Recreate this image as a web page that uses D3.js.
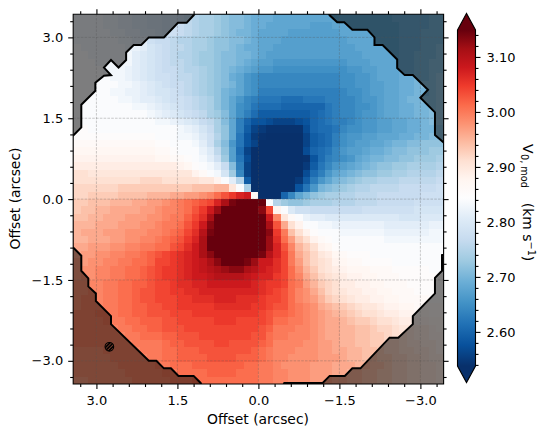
<!DOCTYPE html>
<html>
<head>
<meta charset="utf-8">
<style>
  html, body { margin: 0; padding: 0; background: #fff; }
  svg { display: block; }
  text { font-family: "DejaVu Sans", sans-serif; fill: #000; }
</style>
<script src="https://cdn.jsdelivr.net/npm/d3@7"></script>
</head>
<body>
<svg id="chart" width="547" height="437"></svg>
<script>
// Line-of-sight velocity model, in units of 0.01 km/s above 2.50 km/s, listed
// from the top row down and from the left column across.
const velocityRows = [
[33,33,33,33,32,32,31,31,30,30,29,29,28,28,27,26,25,24,24,23,22,21,21,20,19,19,19,18,18,18,18,18,18,18,18,18,18,18,18,18,18,18,18,19,19,19,19,19,20,20],
[33,33,33,33,32,32,31,31,30,30,29,29,28,28,27,26,25,24,24,23,22,21,21,20,19,19,18,18,18,18,18,18,17,17,17,18,18,18,18,18,18,18,18,18,19,19,19,19,20,20],
[33,33,33,33,33,32,32,31,31,30,30,29,28,28,27,26,25,24,24,23,22,21,20,20,19,18,18,18,18,17,17,17,17,17,17,17,18,18,18,18,18,18,18,18,19,19,19,20,20,20],
[33,33,33,33,33,33,32,32,31,31,28,27,27,26,25,25,24,24,23,22,22,21,21,20,19,18,18,18,17,17,17,17,17,17,17,17,17,18,18,18,18,18,18,18,19,19,19,20,20,20],
[34,33,33,33,33,33,33,32,32,31,29,28,27,26,26,25,24,24,23,22,22,21,20,19,19,18,18,17,17,17,17,17,17,17,17,17,17,17,18,18,18,18,18,18,19,19,19,20,20,21],
[34,34,33,33,33,33,33,33,31,30,29,28,27,26,25,25,24,23,23,22,21,21,20,20,19,18,17,17,17,17,17,17,17,17,17,17,17,17,17,18,18,18,18,18,19,19,20,20,20,21],
[34,34,34,33,33,33,33,33,31,30,29,28,27,26,26,25,24,23,23,22,21,21,20,19,18,17,17,16,16,16,16,16,16,16,16,16,16,17,17,17,18,18,18,18,19,19,20,20,21,21],
[34,34,34,34,33,33,33,32,31,30,29,28,27,27,26,25,25,24,23,22,21,20,19,18,17,16,16,15,15,15,15,15,15,15,15,15,15,16,16,17,17,18,18,18,19,19,20,20,21,21],
[34,34,34,34,34,33,33,32,31,30,29,28,28,27,26,26,25,24,23,22,21,19,18,16,15,14,14,14,14,14,14,14,14,14,14,14,15,15,16,16,17,18,18,18,19,19,20,20,21,22],
[34,34,34,34,34,34,33,33,32,31,30,29,28,27,27,26,25,24,23,22,21,20,18,16,15,14,14,14,14,14,14,14,14,14,14,14,15,15,16,16,17,17,18,18,19,19,20,21,21,22],
[34,34,34,34,34,33,33,32,32,31,30,29,29,28,27,26,25,24,23,22,20,19,18,16,15,13,13,13,13,13,13,13,13,13,13,13,14,15,15,16,17,17,18,18,19,19,20,20,21,22],
[34,34,34,34,34,34,33,33,32,31,31,30,29,28,28,27,26,25,24,22,20,18,16,14,13,12,12,12,11,11,11,12,12,12,13,13,14,14,15,16,16,17,18,18,19,20,20,21,21,22],
[34,34,34,34,34,34,34,34,33,33,32,31,30,29,28,27,26,25,24,22,20,18,15,14,12,11,11,11,10,10,10,10,10,10,12,13,14,14,15,15,16,17,18,18,19,19,20,20,21,22],
[34,34,34,34,34,34,34,34,34,34,33,32,31,30,29,28,27,26,24,23,21,18,15,13,11,9,9,9,9,9,9,9,10,11,12,13,14,14,15,16,16,17,18,18,19,19,20,20,21,22],
[34,34,34,34,34,34,34,34,34,34,34,33,33,32,31,30,29,27,26,24,21,18,13,10,8,8,7,6,6,6,7,8,10,11,12,13,13,14,15,16,16,17,17,18,18,19,19,20,21,22],
[35,35,34,34,34,34,34,34,34,34,34,34,34,34,33,32,31,29,27,24,22,18,13,9,6,5,4,4,4,4,4,7,10,11,11,12,14,15,15,16,16,17,17,18,18,19,19,20,20,21],
[35,35,35,35,35,35,35,35,35,35,35,34,34,34,33,33,32,30,28,25,22,18,12,8,5,4,3,3,3,3,3,6,9,10,11,13,15,16,16,17,17,18,18,18,19,19,20,20,21,21],
[36,36,36,36,36,36,36,36,36,36,36,35,35,34,34,34,33,31,28,24,21,16,12,8,6,3,3,3,3,3,3,6,9,10,11,13,15,16,17,17,18,18,19,20,20,21,21,22,22,22],
[37,37,37,37,37,37,37,37,37,37,37,36,36,35,34,34,34,32,30,26,22,17,11,6,3,3,3,3,3,3,3,7,10,11,12,14,16,17,17,18,19,19,20,21,21,22,22,22,23,23],
[38,38,38,38,38,38,38,38,38,38,38,37,37,36,36,35,34,33,31,28,23,17,12,7,3,3,3,3,3,3,3,4,8,11,13,14,15,16,18,19,20,20,21,21,22,22,23,23,23,24],
[39,39,39,39,39,39,39,39,39,39,39,39,39,39,38,37,35,34,33,31,27,21,13,6,3,3,3,3,3,3,3,5,9,12,14,16,17,18,19,20,21,22,22,23,23,24,24,24,24,25],
[41,41,40,40,40,40,40,40,40,40,40,40,40,40,40,40,38,36,34,33,29,23,14,6,3,3,3,3,3,3,3,7,11,13,16,18,19,20,21,22,22,23,23,24,24,25,25,25,25,26],
[41,41,41,41,41,41,41,41,41,42,42,42,41,41,41,41,41,40,40,38,34,31,25,9,3,3,3,3,3,3,5,9,13,16,18,20,21,22,23,24,24,25,25,25,26,26,26,26,26,27],
[42,42,42,42,42,42,43,43,43,43,43,43,43,43,43,43,44,44,44,45,45,40,34,24,3,3,3,3,3,3,8,12,16,20,21,22,23,24,25,25,26,26,26,26,27,27,27,27,27,28],
[42,42,43,43,43,43,44,44,44,44,45,45,45,46,46,47,47,48,49,51,53,55,57,58,36,3,3,3,10,14,18,20,22,23,24,24,25,25,26,26,26,27,27,27,27,27,27,28,28,28],
[43,43,44,44,44,45,45,45,46,46,47,47,48,49,50,51,52,53,54,57,61,64,65,65,65,65,34,25,23,22,22,23,24,24,24,25,25,25,26,26,26,27,27,27,27,27,28,28,28,28],
[43,44,44,45,45,46,46,46,46,47,47,48,49,49,50,51,53,55,58,62,65,65,65,65,65,63,54,38,34,30,28,28,27,27,27,27,27,27,27,28,28,28,28,28,28,28,29,29,29,29],
[44,44,45,45,46,46,46,47,47,47,48,48,49,50,50,52,54,56,61,65,65,65,65,65,65,65,58,49,40,36,34,32,31,31,30,30,30,30,30,30,30,30,30,30,29,29,29,30,30,30],
[45,45,45,46,46,46,47,47,47,48,48,49,50,50,51,53,55,58,63,65,65,65,65,65,65,65,61,53,46,41,38,34,34,33,33,32,32,32,32,32,32,32,31,31,31,31,31,31,32,32],
[45,46,46,46,47,47,47,48,48,48,49,49,50,51,52,54,56,60,64,65,65,65,65,65,65,65,63,55,50,44,41,38,35,34,34,34,33,33,33,33,33,33,32,32,32,32,32,32,33,33],
[45,45,46,46,46,47,47,48,48,49,49,50,51,52,53,55,57,61,65,65,65,65,65,65,65,65,62,56,51,47,43,41,38,36,35,34,34,34,34,34,34,34,33,33,33,33,33,33,33,33],
[46,46,47,47,47,48,48,49,49,50,50,51,51,53,54,56,58,61,65,65,65,65,65,65,65,65,62,57,53,49,45,43,41,38,37,35,34,34,34,34,34,34,34,34,34,34,34,34,34,34],
[46,47,47,48,48,49,49,50,50,51,52,53,54,55,56,57,58,61,63,65,65,65,65,65,65,64,60,57,54,50,46,44,42,40,39,37,36,35,35,35,34,34,34,34,34,34,34,34,34,34],
[47,47,48,48,49,49,50,50,51,51,52,54,54,55,56,57,58,59,61,63,65,65,65,64,62,58,58,56,54,50,47,44,42,41,40,38,37,36,36,35,35,35,35,34,34,34,34,34,34,34],
[47,48,48,49,49,50,50,51,51,52,53,54,55,55,56,57,58,59,60,61,62,63,63,61,60,58,57,56,54,51,48,45,43,41,40,39,38,37,37,37,36,36,36,35,35,35,35,35,34,34],
[47,48,48,49,49,50,50,51,51,52,53,54,55,55,56,57,58,58,59,60,60,60,60,59,58,57,57,55,54,51,49,46,44,42,41,40,39,38,38,37,37,36,36,36,35,35,35,35,35,35],
[48,48,49,49,50,50,51,51,52,52,53,54,54,55,56,56,57,57,58,58,58,58,58,58,57,56,55,55,54,51,50,47,45,43,42,41,39,39,38,38,37,37,36,36,36,35,35,35,35,35],
[48,48,49,49,50,50,51,51,52,53,53,54,54,55,55,56,56,57,57,57,57,57,57,57,57,56,55,54,53,51,49,48,46,44,42,41,40,39,39,38,38,37,37,36,36,36,35,35,35,35],
[48,49,49,49,50,50,51,51,52,53,53,54,54,54,55,55,56,56,56,57,57,57,56,56,56,55,54,54,53,51,49,48,47,45,43,42,41,40,39,39,38,38,37,37,36,36,36,36,35,35],
[48,49,49,49,50,50,51,51,52,52,53,53,54,54,55,55,55,55,55,56,56,56,56,56,55,55,54,53,53,51,50,49,48,46,45,44,43,42,41,40,40,39,38,38,37,37,36,36,36,36],
[49,49,49,50,50,50,51,51,52,52,53,53,53,54,54,54,55,55,55,55,55,55,55,55,55,54,53,52,52,51,50,49,48,47,46,45,44,43,42,41,41,40,39,39,38,38,37,37,36,36],
[49,49,49,49,50,50,50,51,51,52,52,52,53,53,54,54,54,54,54,55,55,55,54,54,54,54,53,51,51,50,50,49,48,47,46,46,45,44,43,43,42,41,41,40,39,39,38,38,37,37],
[49,49,49,49,49,49,50,50,51,51,52,52,53,53,53,54,54,54,54,54,54,54,54,54,54,53,52,50,50,50,49,49,48,47,46,46,45,45,44,44,43,42,42,41,40,40,39,39,38,37],
[49,49,49,49,49,49,49,50,50,51,51,51,52,52,53,53,53,54,54,54,54,54,54,54,53,53,51,50,50,49,49,49,48,47,46,46,45,45,44,44,43,43,42,41,41,40,39,39,38,38],
[49,49,49,49,49,49,49,49,50,50,50,50,51,52,52,53,53,53,53,54,54,53,53,53,53,52,51,49,49,49,49,48,48,47,47,46,45,45,44,44,43,43,42,42,41,40,40,39,39,38],
[48,48,48,48,49,49,49,49,49,50,50,50,51,51,52,52,52,53,53,53,53,53,53,53,52,51,50,49,49,49,48,48,48,47,47,46,46,45,45,44,44,43,42,42,41,41,40,40,39,38],
[48,48,48,48,48,49,49,49,49,49,50,50,51,51,52,52,52,52,53,53,53,53,52,52,52,51,50,49,49,48,48,48,48,47,47,47,46,45,45,44,44,43,43,42,42,41,41,40,39,39],
[48,48,48,48,48,48,49,49,49,49,49,50,50,51,51,51,52,52,52,52,52,52,52,51,51,50,50,49,48,48,48,48,47,47,47,46,46,46,45,45,44,44,43,42,42,41,41,40,40,39],
[48,48,48,48,48,48,48,49,49,49,49,49,50,50,51,51,51,51,52,52,52,52,51,51,51,50,50,49,49,48,48,48,47,47,47,46,46,45,45,44,44,43,43,42,42,41,41,40,40,39],
[47,47,48,48,48,48,48,48,49,49,49,49,49,50,50,50,51,51,51,51,51,51,51,51,51,50,50,49,49,48,48,48,47,47,47,46,46,45,45,44,44,43,43,42,42,41,41,40,40,39]
];

// Outline of the fitted region, in arcsec offsets; stretches beyond the axis limits fall outside the frame.
const outlineX = [3.42,3.28,3.28,3.02,3.02,2.86,2.73,2.86,2.73,2.59,2.45,2.45,2.31,2.17,2.03,1.75,1.49,1.33,1.20,1.10,-1.25,-1.32,-1.46,-1.59,-1.74,-2.02,-2.15,-2.15,-2.30,-2.57,-2.57,-2.71,-2.86,-3.14,-3.00,-3.27,-3.27,-3.42,-3.60,-3.60,-3.40,-3.40,-3.27,-3.27,-2.86,-2.86,-2.59,-2.43,-1.89,-1.74,-1.60,-1.32,-1.19,-0.48,-0.40,1.00,1.07,1.20,1.48,1.62,1.75,1.89,2.03,2.73,2.73,3.01,3.01,3.15,3.15,3.28,3.28,3.42,3.60,3.60];
const outlineY = [1.19,1.33,1.75,2.01,2.16,2.29,2.30,2.44,2.58,2.44,2.58,2.72,2.86,2.86,3.00,3.00,3.27,3.27,3.41,3.55,3.55,3.41,3.28,3.28,3.14,3.14,3.00,2.86,2.86,2.59,2.43,2.30,2.30,2.03,1.88,1.61,1.19,1.06,0.90,-1.00,-1.04,-1.33,-1.46,-1.75,-2.17,-2.32,-2.57,-2.57,-3.14,-3.14,-3.28,-3.28,-3.41,-3.41,-3.60,-3.60,-3.41,-3.28,-3.28,-3.14,-3.14,-3.00,-3.00,-2.32,-2.17,-1.89,-1.75,-1.62,-1.47,-1.33,-1.05,-0.91,-0.80,1.05];

const majorTicks = [3, 1.5, 0, -1.5, -3];
const minorTicks = [3.3, 2.7, 2.4, 2.1, 1.8, 1.2, 0.9, 0.6, 0.3, -0.3, -0.6, -0.9, -1.2, -1.8, -2.1, -2.4, -2.7, -3.3];
const colorbarTicks = [2.6, 2.7, 2.8, 2.9, 3.0, 3.1];
const colorbarMinorTicks = [2.54, 2.56, 2.58, 2.62, 2.64, 2.66, 2.68, 2.72, 2.74, 2.76, 2.78, 2.82, 2.84, 2.86, 2.88, 2.92, 2.94, 2.96, 2.98, 3.02, 3.04, 3.06, 3.08, 3.12, 3.14];
const beamCentre = [2.76, -2.74];
const beamRadius = 0.08;
const velocityMin = 2.538;
const velocityMax = 3.149;

const blueStops = ["#08306b", "#08519c", "#2171b5", "#4292c6", "#6baed6", "#9ecae1", "#c6dbef", "#deebf7", "#f7fbff"];
const redStops = ["#ffffff", "#fff5f0", "#fee0d2", "#fcbba1", "#fc9272", "#fb6a4a", "#ef3b2c", "#cb181d", "#a50f15", "#67000d"];

const frame = { left: 73.2, right: 443.6, top: 14.2, bottom: 384 };
const bar = { left: 457.5, right: 475.5, top: 30, bottom: 366, tip: 16.5 };
const extent = 3.43;

const svg = d3.select("#chart");
const x = d3.scaleLinear().domain([extent, -extent]).range([frame.left, frame.right]);
const y = d3.scaleLinear().domain([extent, -extent]).range([frame.top, frame.bottom]);
const column = d3.scaleBand().domain(d3.range(50)).range([frame.left, frame.right]);
const row = d3.scaleBand().domain(d3.range(50)).range([frame.top, frame.bottom]);

// Diverging colour map: blue ramp up to the midpoint, red ramp above it.
const mid = (velocityMin + velocityMax) / 2;
const stops = blueStops.concat(redStops.slice(1));
const stopValues = stops.map((_, i) =>
  i < 9 ? velocityMin + (mid - velocityMin) * i / 8 : mid + (velocityMax - mid) * (i - 8) / 9);
stops[8] = "#fdfdfe";
const colour = d3.scaleLinear().domain(stopValues).range(stops).clamp(true);

svg.append("defs").append("clipPath").attr("id", "plot-clip")
  .append("rect")
  .attr("x", frame.left).attr("y", frame.top)
  .attr("width", frame.right - frame.left).attr("height", frame.bottom - frame.top);

// Velocity cells
const cells = svg.append("g").attr("shape-rendering", "crispEdges");
velocityRows.forEach((values, j) => {
  cells.selectAll(null).data(values).join("rect")
    .attr("x", (_, i) => column(i))
    .attr("y", row(j))
    .attr("width", column.bandwidth())
    .attr("height", row.bandwidth())
    .attr("fill", d => colour(2.5 + d / 100));
});

// Everything outside the fitted region is dimmed
const plot = svg.append("g").attr("clip-path", "url(#plot-clip)");
const outline = outlineX.map((v, i) => [x(v), y(outlineY[i])]);
const outlinePath = d3.line()(outline) + "Z";
const framePath = d3.line()([[frame.left, frame.top], [frame.right, frame.top], [frame.right, frame.bottom], [frame.left, frame.bottom]]) + "Z";
plot.append("path")
  .attr("d", framePath + outlinePath)
  .attr("fill", "#000").attr("fill-opacity", 0.5)
  .attr("fill-rule", "evenodd");

// Dashed grid at the labelled offsets
const gridStyle = s => s.attr("stroke", "#555").attr("stroke-opacity", 0.5)
  .attr("stroke-width", 0.6).attr("stroke-dasharray", "2.6,1.2");
plot.append("g").selectAll("line").data(majorTicks).join("line")
  .attr("x1", d => x(d)).attr("x2", d => x(d))
  .attr("y1", frame.top).attr("y2", frame.bottom).call(gridStyle);
plot.append("g").selectAll("line").data(majorTicks).join("line")
  .attr("y1", d => y(d)).attr("y2", d => y(d))
  .attr("x1", frame.left).attr("x2", frame.right).call(gridStyle);

plot.append("path").attr("d", outlinePath)
  .attr("fill", "none").attr("stroke", "#000").attr("stroke-width", 2)
  .attr("stroke-linejoin", "miter");

// Beam marker with hatching
const beamX = x(beamCentre[0]), beamY = y(beamCentre[1]);
const beamR = x(beamCentre[0] - beamRadius) - beamX;
svg.select("defs").append("clipPath").attr("id", "beam-clip")
  .append("circle").attr("cx", beamX).attr("cy", beamY).attr("r", beamR);
const beam = plot.append("g");
beam.append("g").attr("clip-path", "url(#beam-clip)")
  .selectAll("line").data([-3.4, 0, 3.4]).join("line")
  .attr("x1", d => beamX + d - 6).attr("y1", beamY + 6)
  .attr("x2", d => beamX + d + 6).attr("y2", beamY - 6)
  .attr("stroke", "#000").attr("stroke-width", 1.6);
beam.append("circle").attr("cx", beamX).attr("cy", beamY).attr("r", beamR)
  .attr("fill", "none").attr("stroke", "#000").attr("stroke-width", 1.1);

// Frame
svg.append("path").attr("d", framePath).attr("fill", "none").attr("stroke", "#000").attr("stroke-width", 1.1);

// Axes: labelled ticks on the bottom and left, bare ticks on the top and right
function drawAxis(gen, scale, tx, ty, labelled, padding) {
  const major = gen(scale).tickValues(majorTicks).tickSize(5).tickPadding(padding)
    .tickFormat(labelled ? d3.format(".1f") : "");
  const minor = gen(scale).tickValues(minorTicks).tickSize(3).tickFormat("");
  const translate = `translate(${tx},${ty})`;
  for (const a of [major, minor]) {
    const g = svg.append("g").attr("transform", translate).call(a);
    g.select(".domain").remove();
    g.selectAll("line").attr("stroke", "#000").attr("stroke-width", 1.1);
    g.selectAll("text").attr("font-size", 13).attr("font-family", "DejaVu Sans").attr("fill", "#000");
  }
}
drawAxis(d3.axisBottom, x, 0, frame.bottom, true, 7);
drawAxis(d3.axisLeft, y, frame.left, 0, true, 5);
drawAxis(d3.axisTop, x, 0, frame.top, false, 3);
drawAxis(d3.axisRight, y, frame.right, 0, false, 3);

svg.append("text").attr("x", 258).attr("y", 424).attr("text-anchor", "middle")
  .attr("font-size", 13.9).text("Offset (arcsec)");
svg.append("text").attr("transform", "translate(20,198.5) rotate(-90)").attr("text-anchor", "middle")
  .attr("font-size", 13.9).text("Offset (arcsec)");

// Colour bar with triangular extensions
const barScale = d3.scaleLinear().domain([velocityMin, velocityMax]).range([bar.bottom, bar.top]);
const gradient = svg.select("defs").append("linearGradient").attr("id", "bar-fill")
  .attr("x1", 0).attr("x2", 0).attr("y1", 1).attr("y2", 0);
gradient.selectAll("stop").data(stopValues).join("stop")
  .attr("offset", d => (d - velocityMin) / (velocityMax - velocityMin))
  .attr("stop-color", (_, i) => stops[i]);
const barMid = (bar.left + bar.right) / 2;
svg.append("rect").attr("x", bar.left).attr("y", bar.top)
  .attr("width", bar.right - bar.left).attr("height", bar.bottom - bar.top)
  .attr("fill", "url(#bar-fill)");
const barOutline = d3.line()([
  [bar.left, bar.top], [barMid, bar.top - bar.tip], [bar.right, bar.top],
  [bar.right, bar.bottom], [barMid, bar.bottom + bar.tip], [bar.left, bar.bottom]
]) + "Z";
svg.append("path")
  .attr("d", d3.line()([[bar.left, bar.top], [barMid, bar.top - bar.tip], [bar.right, bar.top]]) + "Z")
  .attr("fill", stops[stops.length - 1]);
svg.append("path")
  .attr("d", d3.line()([[bar.left, bar.bottom], [barMid, bar.bottom + bar.tip], [bar.right, bar.bottom]]) + "Z")
  .attr("fill", stops[0]);
svg.append("path").attr("d", barOutline).attr("fill", "none").attr("stroke", "#000").attr("stroke-width", 1.1);

for (const a of [
  d3.axisRight(barScale).tickValues(colorbarTicks).tickSize(5).tickPadding(6).tickFormat(d3.format(".2f")),
  d3.axisRight(barScale).tickValues(colorbarMinorTicks).tickSize(3).tickFormat("")
]) {
  const g = svg.append("g").attr("transform", `translate(${bar.right},0)`).call(a);
  g.select(".domain").remove();
  g.selectAll("line").attr("stroke", "#000").attr("stroke-width", 1.1);
  g.selectAll("text").attr("font-size", 13).attr("font-family", "DejaVu Sans").attr("fill", "#000");
}

// Colour bar title, reading downwards
const title = svg.append("text").attr("transform", "translate(522.5,144) rotate(90)").attr("font-size", 13.9);
title.append("tspan").text("V");
title.append("tspan").attr("font-size", 9.7).attr("dy", 2).attr("dx", 0.5).text("0, mod");
title.append("tspan").attr("dy", -2).attr("dx", 15).text("(km s");
title.append("tspan").attr("font-size", 9.7).attr("dy", -5).text("\u22121");
title.append("tspan").attr("dy", 5).text(")");
</script>
</body>
</html>
